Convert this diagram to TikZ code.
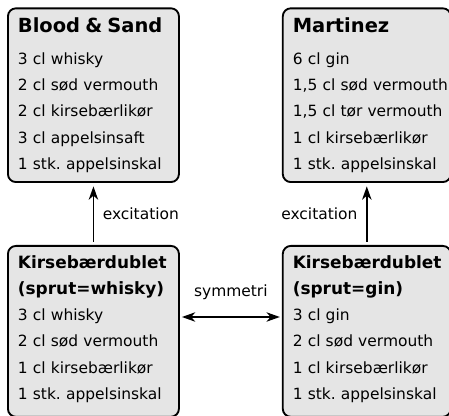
\documentclass[tikz,border=0pt]{standalone}
\usepackage{fontspec}
\setmainfont{DejaVu Sans}
\frenchspacing
\usetikzlibrary{positioning}
\usetikzlibrary{arrows.meta}
\tikzstyle{recipe}=[draw, fill=black!10, line width=1.4pt, rounded corners=6pt, align=left, inner xsep=7.5pt, inner ysep=7pt, font=\fontsize{11.6}{19.7}\selectfont]
\tikzstyle{excite}=[-{Stealth[length=10pt, width=7pt, inset=3pt]}, line width=1.4pt, shorten <=2.25pt, shorten >=2.5pt]
\tikzstyle{mirror}=[{Stealth[length=10pt, width=7pt, inset=3pt]}-{Stealth[length=10pt, width=7pt, inset=3pt]}, line width=1.4pt, shorten <=1.5pt, shorten >=1.5pt]
\newcommand{\drinkname}[1]{\mbox{\fontsize{14.6}{17}\selectfont\bfseries #1}}
\newcommand{\dubletname}[1]{\mbox{\fontsize{12.7}{15}\selectfont\bfseries #1}}
\newcommand{\lastline}[1]{\mbox{#1}\rule[-6pt]{0pt}{0pt}}

\begin{document}
\begin{tikzpicture}[node distance = 2cm]
    \useasboundingbox (0,0) rectangle (336.75pt,-312pt);
    \node[recipe, text width=113.25pt, anchor=north west] (whiskydub) at (5.25pt,-183.75pt)
        {\dubletname{Kirsebærdublet}\\ \dubletname{(sprut=whisky)}\\ 3 cl whisky\\ 2 cl sød vermouth\\ 1 cl kirsebærlikør\\ \lastline{1 stk. appelsinskal}};
    \node[recipe, text width=111pt] (gindub) [right=76.5pt of whiskydub.north east, anchor=north west]
        {\dubletname{Kirsebærdublet}\\ \dubletname{(sprut=gin)}\\ 3 cl gin\\ 2 cl sød vermouth\\ 1 cl kirsebærlikør\\ \lastline{1 stk. appelsinskal}};
    \node[recipe, text width=113.25pt] (bloodsand) [above=46.5pt of whiskydub.north west, anchor=south west]
        {\drinkname{Blood \& Sand}\\[4.3pt] 3 cl whisky\\ 2 cl sød vermouth\\ 2 cl kirsebærlikør\\ 3 cl appelsinsaft\\ 1 stk. appelsinskal};
    \node[recipe, text width=111pt] (martinez) [above=46.5pt of gindub.north west, anchor=south west]
        {\drinkname{Martinez}\\[4.3pt] 6 cl gin\\ \mbox{1,5 cl sød vermouth}\\ \mbox{1,5 cl tør vermouth}\\ 1 cl kirsebærlikør\\ 1 stk. appelsinskal};

    \draw[excite] (whiskydub) -- node[right=3pt, font=\fontsize{11.6}{14}\selectfont] {excitation} (bloodsand);
    \draw[excite] (gindub)    -- node[left=3pt, font=\fontsize{11.6}{14}\selectfont]  {excitation} (martinez);
    \draw[mirror] ([yshift=-54pt]whiskydub.north east) -- node[above=9pt, font=\fontsize{11.6}{14}\selectfont] {symmetri} ([yshift=-54pt]gindub.north west);
\end{tikzpicture}
\end{document}
